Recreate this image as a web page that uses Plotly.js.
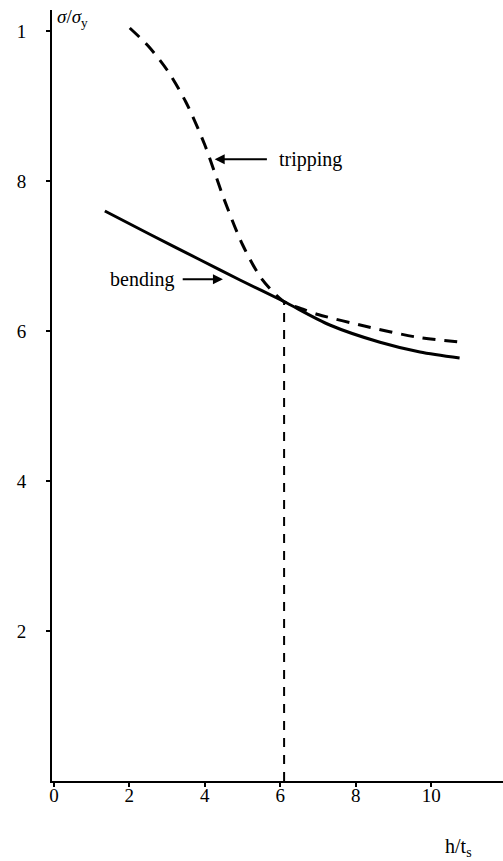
<!DOCTYPE html>
<html>
<head>
<meta charset="utf-8">
<script src="https://cdn.plot.ly/plotly-3.0.1.min.js"></script>
<style>html,body{margin:0;padding:0;background:#fff;}#chart{width:503px;height:861px;}</style>
</head>
<body>
<div id="chart"></div>
<script>
// bending curve (solid)
const bendingX = [1.35, 2.54, 3.87, 4.93, 6.07, 7.31, 8.64, 9.70, 10.75];
const bendingY = [0.760, 0.729, 0.695, 0.668, 0.640, 0.608, 0.585, 0.572, 0.564];
// tripping curve (dashed)
const trippingX = [2.01, 2.5, 3.0, 3.5, 4.0, 4.5, 5.0, 5.5, 6.07, 6.6, 7.0, 8.2, 9.6, 10.83];
const trippingY = [1.004, 0.980, 0.948, 0.905, 0.848, 0.777, 0.715, 0.670, 0.640, 0.629, 0.622, 0.607, 0.592, 0.585];
// vertical drop line at intersection
const dropX = [6.1, 6.1];
const dropY = [0.0, 0.640];
// ticks
const xTickVals = [0, 2, 4, 6, 8, 10];
const xTickText = ["0", "2", "4", "6", "8", "10"];
const yTickVals = [0.2, 0.4, 0.6, 0.8, 1.0];
const yTickText = ["2", "4", "6", "8", "1"];

const FONT = "Liberation Serif, Times New Roman, serif";

const traces = [
  {x: bendingX, y: bendingY, mode: "lines", line: {color: "#000", width: 3, shape: "spline", smoothing: 0.8}, hoverinfo: "skip"},
  {x: trippingX, y: trippingY, mode: "lines", line: {color: "#000", width: 3, shape: "spline", smoothing: 0.8, dash: "13px,9px"}, hoverinfo: "skip"},
  {x: dropX, y: dropY, mode: "lines", line: {color: "#000", width: 2, dash: "9px,8px"}, hoverinfo: "skip"}
];

const layout = {
  width: 503, height: 861,
  margin: {l: 52, r: 0, t: 10, b: 80},
  paper_bgcolor: "#fff", plot_bgcolor: "#fff",
  showlegend: false,
  font: {family: FONT, size: 18, color: "#000"},
  xaxis: {
    range: [-0.05, 11.9], showgrid: false, zeroline: false,
    showline: true, linecolor: "#000", linewidth: 2,
    ticks: "outside", ticklen: 4, tickwidth: 2, tickcolor: "#000",
    tickvals: xTickVals, ticktext: xTickText,
    ticklabelstandoff: -8,
    tickfont: {family: FONT, size: 19, color: "#000"}
  },
  yaxis: {
    range: [0, 1.028], showgrid: false, zeroline: false,
    showline: true, linecolor: "#000", linewidth: 2,
    ticks: "outside", ticklen: 4, tickwidth: 2, tickcolor: "#000",
    tickvals: yTickVals, ticktext: yTickText,
    ticklabelstandoff: 16,
    tickfont: {family: FONT, size: 19, color: "#000"}
  },
  annotations: [
    {xref: "paper", yref: "paper", x: 0.007, y: 0.99, xanchor: "left", yanchor: "middle",
     text: "<i>σ</i>/<i>σ</i><sub>y</sub>", showarrow: false, font: {family: FONT, size: 19}},
    {xref: "paper", yref: "paper", x: 0.902, y: -0.086, xanchor: "center", yanchor: "middle",
     text: "h/t<sub>s</sub>", showarrow: false, font: {family: FONT, size: 20}},
    {x: 4.26, y: 0.829, xref: "x", yref: "y", ax: 6.81, ay: 0.829, axref: "x", ayref: "y",
     text: "tripping", font: {family: FONT, size: 20}, borderpad: 12,
     showarrow: true, arrowhead: 2, arrowsize: 1, arrowwidth: 2, arrowcolor: "#000"},
    {x: 4.48, y: 0.669, xref: "x", yref: "y", ax: 2.34, ay: 0.669, axref: "x", ayref: "y",
     text: "bending", font: {family: FONT, size: 20}, borderpad: 8,
     showarrow: true, arrowhead: 2, arrowsize: 1, arrowwidth: 2, arrowcolor: "#000"}
  ]
};

Plotly.newPlot("chart", traces, layout, {displayModeBar: false, staticPlot: true});
</script>
</body>
</html>
